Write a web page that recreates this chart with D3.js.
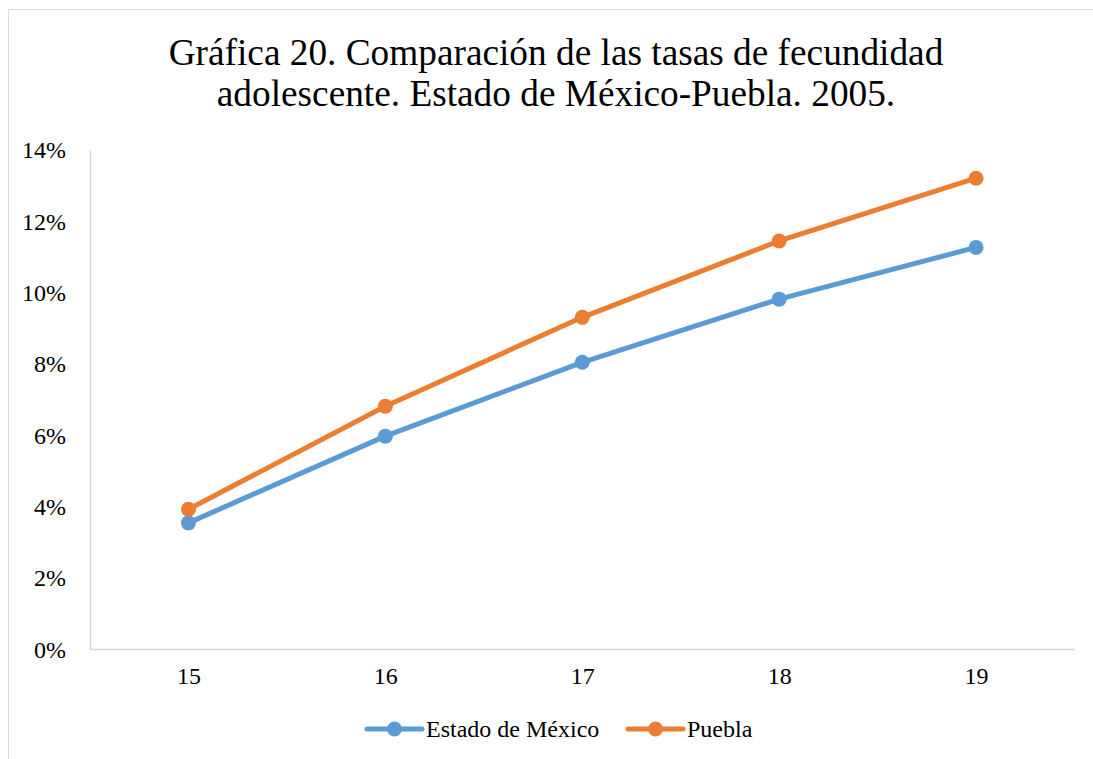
<!DOCTYPE html>
<html>
<head>
<meta charset="utf-8">
<script src="https://cdn.jsdelivr.net/npm/d3@7"></script>
<style>
  html, body { margin: 0; padding: 0; background: #fff; }
  svg { display: block; font-family: "Liberation Serif", "Times New Roman", serif; }
</style>
</head>
<body>
<div id="chart"></div>
<script>
// Ages (x categories)
const ages = ['15', '16', '17', '18', '19'];
// Adolescent fertility rates (%)
const estadoMexico = [3.55, 5.98, 8.05, 9.82, 11.27];
const puebla = [3.93, 6.82, 9.31, 11.45, 13.21];
const yTicks = [0, 2, 4, 6, 8, 10, 12, 14];
const titleLines = [
  'Gráfica 20. Comparación de las tasas de fecundidad',
  'adolescente. Estado de México-Puebla. 2005.'
];

const series = [
  { name: 'Estado de México', values: estadoMexico, color: '#5B9BD5' },
  { name: 'Puebla', values: puebla, color: '#ED7D31' }
];

const width = 1093, height = 759;
const margin = { left: 90, right: 1093 - 1074.5, top: 150, bottom: 759 - 649.5 };
const font = '"Liberation Serif", "Times New Roman", serif';

const svg = d3.select('#chart').append('svg')
  .attr('width', width)
  .attr('height', height);

// Chart frame (right/bottom edges fall outside the view)
svg.append('rect')
  .attr('x', 8.5).attr('y', 9.5)
  .attr('width', 1100).attr('height', 800)
  .attr('fill', '#fff')
  .attr('stroke', '#d9d9d9')
  .attr('stroke-width', 1);

// Title
svg.append('text')
  .attr('x', 556).attr('y', 65)
  .attr('text-anchor', 'middle')
  .attr('font-size', '37.3px')
  .attr('fill', '#000')
  .selectAll('tspan')
  .data(titleLines)
  .join('tspan')
  .attr('x', 556)
  .attr('dy', (d, i) => i === 0 ? 0 : 41)
  .text(d => d);

const x = d3.scalePoint()
  .domain(ages)
  .range([margin.left, width - margin.right])
  .padding(0.5);

const y = d3.scaleLinear()
  .domain([0, 14])
  .range([height - margin.bottom, margin.top]);

// Y axis
const yAxis = svg.append('g')
  .attr('transform', `translate(${margin.left},0)`)
  .call(d3.axisLeft(y).tickValues(yTicks).tickSize(0).tickPadding(24).tickFormat(d => d + '%'));
yAxis.select('.domain').attr('stroke', '#d9d9d9').attr('stroke-width', 1.5);
yAxis.selectAll('text')
  .attr('font-size', '24px')
  .attr('font-family', font)
  .attr('fill', '#000');

// X axis
const xAxis = svg.append('g')
  .attr('transform', `translate(0,${height - margin.bottom})`)
  .call(d3.axisBottom(x).tickSize(0).tickPadding(17));
xAxis.select('.domain')
  .attr('d', `M${margin.left},0H${width - margin.right}`)
  .attr('stroke', '#d9d9d9').attr('stroke-width', 1.5);
xAxis.selectAll('text')
  .attr('font-size', '24px')
  .attr('font-family', font)
  .attr('fill', '#000');

// Lines and markers
const line = d3.line()
  .x((d, i) => x(ages[i]))
  .y(d => y(d));

series.forEach(s => {
  svg.append('path')
    .datum(s.values)
    .attr('fill', 'none')
    .attr('stroke', s.color)
    .attr('stroke-width', 5)
    .attr('stroke-linejoin', 'round')
    .attr('d', line);

  svg.append('g')
    .selectAll('circle')
    .data(s.values)
    .join('circle')
    .attr('cx', (d, i) => x(ages[i]))
    .attr('cy', d => y(d))
    .attr('r', 7.5)
    .attr('fill', s.color);
});

// Legend
const legendX = [367, 628];
const legendY = 729;
series.forEach((s, i) => {
  const lg = svg.append('g').attr('transform', `translate(${legendX[i]},${legendY})`);
  lg.append('line')
    .attr('x1', 0).attr('x2', 55)
    .attr('stroke', s.color)
    .attr('stroke-width', 5)
    .attr('stroke-linecap', 'round');
  lg.append('circle')
    .attr('cx', 27.5).attr('r', 7.5)
    .attr('fill', s.color);
  lg.append('text')
    .attr('x', 59).attr('y', 8)
    .attr('font-size', '24px')
    .attr('fill', '#000')
    .text(s.name);
});
</script>
</body>
</html>
